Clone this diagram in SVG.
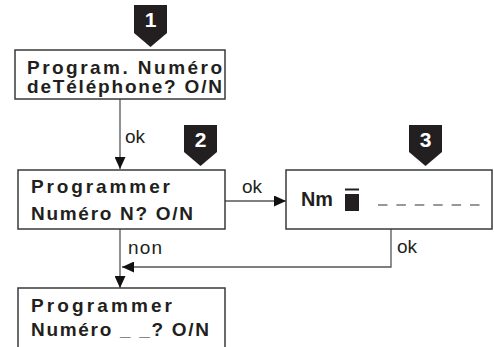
<svg xmlns="http://www.w3.org/2000/svg" width="494" height="347" viewBox="0 0 494 347">
<style>
.box{fill:#fff;stroke:#3a3a3a;stroke-width:1.5}
.t{font-family:"Liberation Sans",Arial,sans-serif;font-weight:bold;font-size:19px;fill:#231f20}
.lbl{font-family:"Liberation Sans",Arial,sans-serif;font-size:19px;fill:#231f20}
.badge{fill:#231f20}
.num{font-family:"Liberation Sans",Arial,sans-serif;font-weight:bold;font-size:21px;fill:#fff;text-anchor:middle}
.c{fill:none;stroke:#555;stroke-width:1.3}
</style>
<defs>
<marker id="ah" viewBox="0 0 12 11" refX="12" refY="5.5" markerWidth="12" markerHeight="11" markerUnits="userSpaceOnUse" orient="auto">
<path d="M0,0 L12,5.5 L0,11 Z" fill="#111"/>
</marker>
</defs>
<rect width="494" height="347" fill="#fff"/>
<g id="connectors">
<line class="c" x1="120" y1="99" x2="120" y2="169" marker-end="url(#ah)"/>
<line class="c" x1="225" y1="201" x2="286" y2="201" marker-end="url(#ah)"/>
<line class="c" x1="120" y1="229" x2="120" y2="288" marker-end="url(#ah)"/>
<polyline class="c" points="391,229 391,267 122,267" marker-end="url(#ah)"/>
<text class="lbl" x="125" y="143">ok</text>
<text class="lbl" x="242" y="193">ok</text>
<text class="lbl" x="397" y="253">ok</text>
<text class="lbl" x="128" y="254" textLength="34">non</text>
</g>
<g id="badge1">
<path class="badge" d="M134,5 H167 V33 L150.5,47 L134,33 Z"/>
<text class="num" x="150.5" y="27">1</text>
</g>
<g id="badge2">
<path class="badge" d="M184,125 H217 V152 L200.5,166 L184,152 Z"/>
<text class="num" x="200.5" y="147">2</text>
</g>
<g id="badge3">
<path class="badge" d="M409,125 H442 V152 L425.5,166 L409,152 Z"/>
<text class="num" x="425.5" y="147">3</text>
</g>
<g id="node1">
<rect class="box" x="15" y="50" width="210" height="49"/>
<text class="t" x="27" y="74" textLength="195" lengthAdjust="spacing">Program. Numéro</text>
<text class="t" x="27" y="93" textLength="195" lengthAdjust="spacing">deTéléphone? O/N</text>
</g>
<g id="node2">
<rect class="box" x="18" y="170" width="207" height="59"/>
<text class="t" x="31" y="193" textLength="139" lengthAdjust="spacing">Programmer</text>
<text class="t" x="31" y="220" textLength="162" lengthAdjust="spacing">Numéro N? O/N</text>
</g>
<g id="node3">
<rect class="box" x="286" y="170" width="206" height="59"/>
<text class="t" x="301" y="206" style="font-size:20px" textLength="32" lengthAdjust="spacingAndGlyphs">Nm</text>
<rect x="345" y="188.5" width="14" height="2" fill="#231f20"/>
<rect x="345" y="194" width="14" height="17" fill="#231f20"/>
<line x1="378" y1="205" x2="480" y2="205" stroke="#777" stroke-width="1.5" stroke-dasharray="9.5 8.9"/>
</g>
<g id="node4">
<rect class="box" x="18" y="288" width="207" height="70"/>
<text class="t" x="31" y="312" textLength="141" lengthAdjust="spacing">Programmer</text>
<text class="t" x="31" y="336" textLength="178" lengthAdjust="spacing">Numéro _ _? O/N</text>
</g>
</svg>
